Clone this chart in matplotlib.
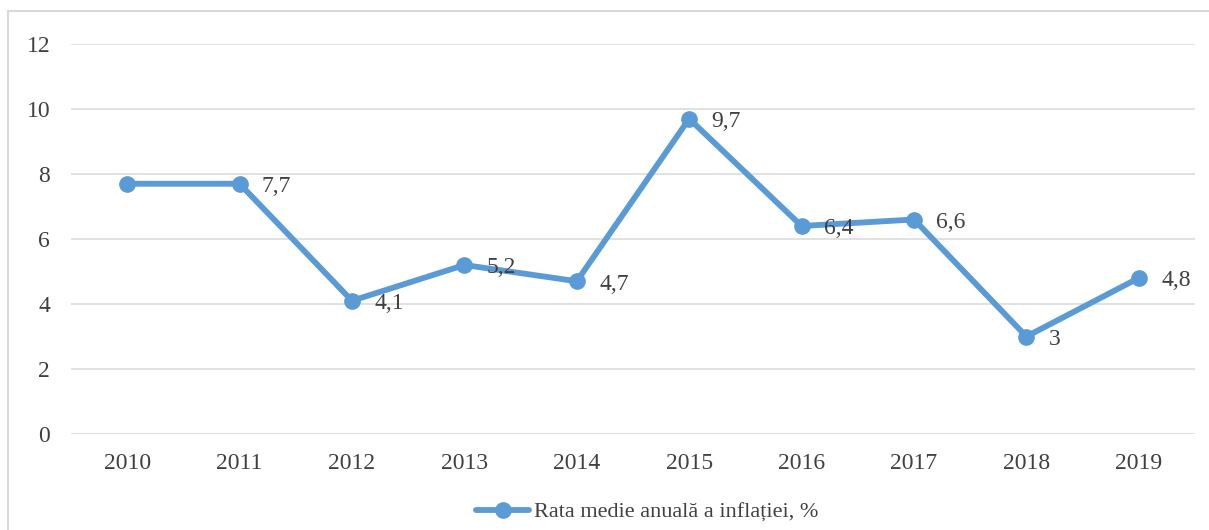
import matplotlib.pyplot as plt
from matplotlib.patches import Rectangle

years = ['2010', '2011', '2012', '2013', '2014', '2015', '2016', '2017', '2018', '2019']
inflation = [7.7, 7.7, 4.1, 5.2, 4.7, 9.7, 6.4, 6.6, 3.0, 4.8]
labels = ['', '7,7', '4,1', '5,2', '4,7', '9,7', '6,4', '6,6', '3', '4,8']
series_name = 'Rata medie anuală a inflației, %'

plt.rcParams['font.family'] = ['Liberation Serif', 'DejaVu Serif']
text_color = '#404040'
line_color = '#5B9BD5'
grid_color = '#D9D9D9'

fig = plt.figure(figsize=(12.09, 5.30), dpi=100)
ax = fig.add_axes([71 / 1209, 1 - 434 / 530, 1124 / 1209, 390 / 530])

x = list(range(len(years)))
ax.plot(x, inflation, color=line_color, linewidth=4.2, marker='o',
        markersize=11, label=series_name, solid_capstyle='round')

for xi, yi, lab in zip(x, inflation, labels):
    if lab:
        ax.annotate(lab, (xi, yi), xytext=(16, -2), textcoords='offset points',
                    ha='left', va='center', fontsize=17, color=text_color)

ax.set_xlim(-0.5, len(years) - 0.5)
ax.set_ylim(0, 12)
ax.set_yticks(range(0, 13, 2))
ax.set_xticks(x)
ax.set_xticklabels(years)
ax.tick_params(length=0, labelsize=17, colors=text_color)
ax.tick_params(axis='x', pad=14)
ax.tick_params(axis='y', pad=15)
ax.grid(axis='y', color=grid_color, linewidth=1.1)
ax.set_axisbelow(True)
for s in ax.spines.values():
    s.set_visible(False)

leg = fig.legend(loc='center', bbox_to_anchor=(647 / 1209, 1 - 512 / 530),
                 frameon=False, fontsize=16, handlelength=2.4, handletextpad=0.2)
for t in leg.get_texts():
    t.set_color(text_color)

# light outer chart border (only top/left visible in the crop)
fig.patches.append(Rectangle((8 / 1209, -0.1), 1.2, 1.1 - 11 / 530,
                             transform=fig.transFigure, fill=False,
                             edgecolor=grid_color, linewidth=1.5))

fig.savefig('out.png', dpi=100)
